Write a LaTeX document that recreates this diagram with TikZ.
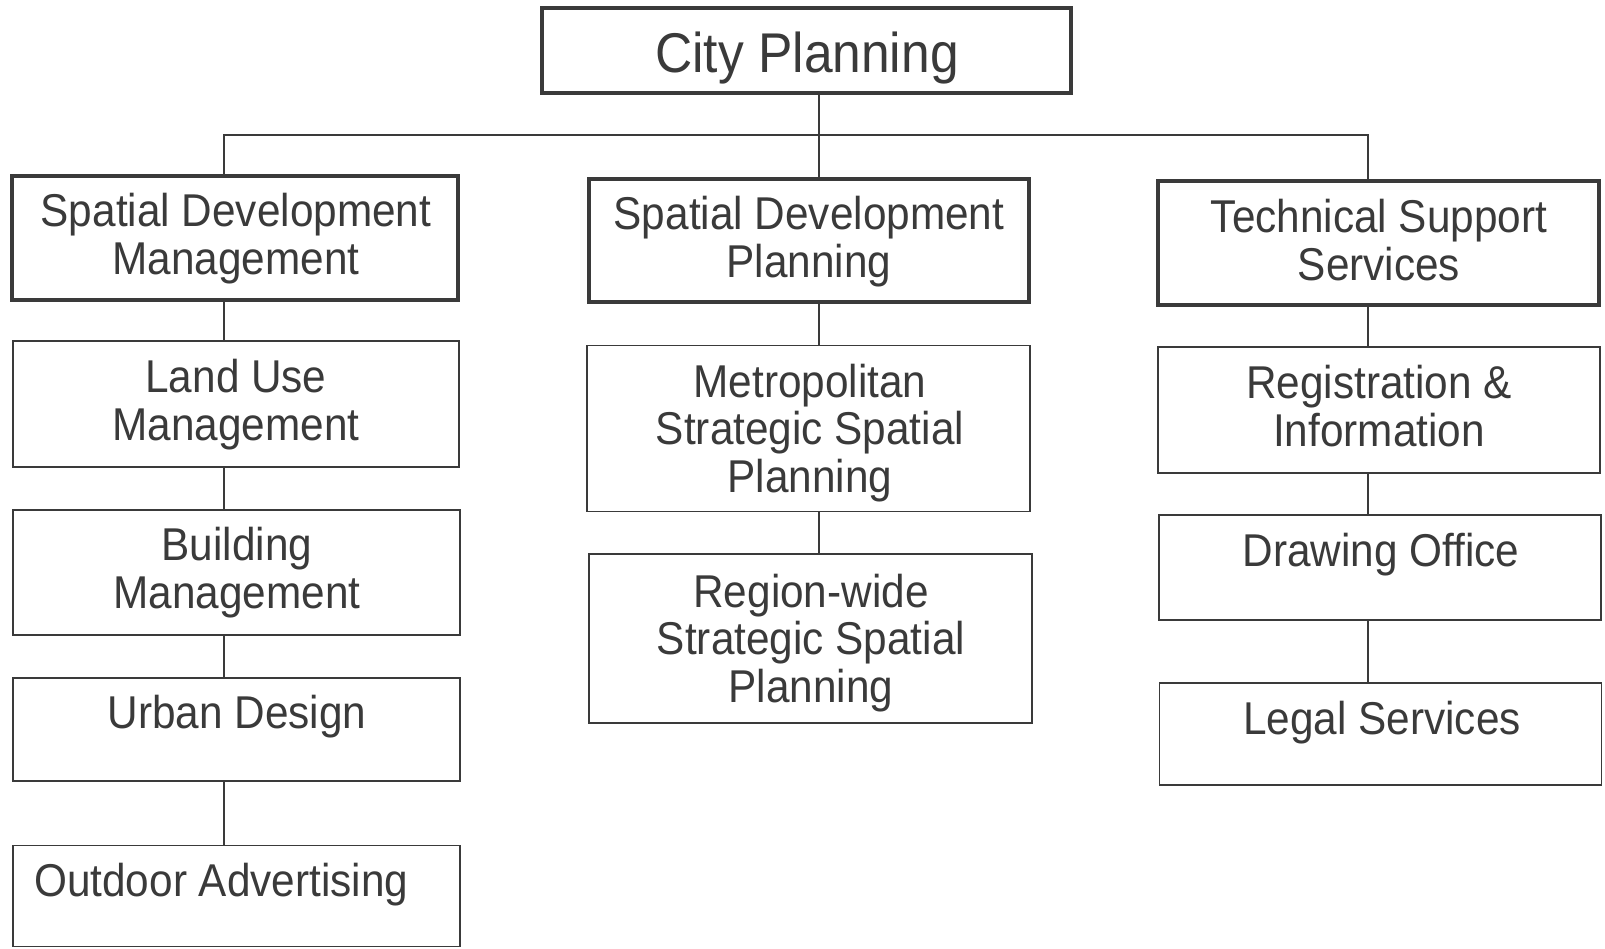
\documentclass[tikz,border=0pt]{standalone}
\usepackage{fontspec}
\setmainfont[FakeStretch=0.92]{Liberation Sans}
\definecolor{linegray}{HTML}{3A3A3A}
\definecolor{textgray}{HTML}{3A3A3A}
\tikzset{
  thickbox/.style={draw=linegray, line width=4pt, inner sep=0pt, rectangle},
  thinbox/.style={draw=linegray, line width=1.8pt, inner sep=0pt, rectangle},
  conn/.style={draw=linegray, line width=1.6pt},
  txt/.style={inner sep=0pt, text=textgray, align=center, anchor=base, font=\fontsize{46}{47.5}\selectfont},
  bigtxt/.style={inner sep=0pt, text=textgray, anchor=base, font=\fontsize{56}{60}\selectfont}
}
\begin{document}
\begin{tikzpicture}[x=1pt,y=-1pt]
\useasboundingbox (0,0) rectangle (1605,948);
\fill[white] (0,0) rectangle (1605,948);
% boxes
\node[thickbox, minimum width=529pt, minimum height=85pt] (city) at (806.5,50.5) {};
\node[thickbox, minimum width=446pt, minimum height=124pt] (sdm) at (235,238) {};
\node[thickbox, minimum width=440pt, minimum height=123pt] (sdp) at (808.6,240.5) {};
\node[thickbox, minimum width=441pt, minimum height=124pt] (tss) at (1378,243) {};
\node[thinbox, minimum width=446pt, minimum height=126pt] (lum) at (236,404) {};
\node[thinbox, minimum width=447pt, minimum height=125pt] (bm) at (236.5,572.7) {};
\node[thinbox, minimum width=447pt, minimum height=103pt] (ud) at (236.5,729.8) {};
\node[thinbox, minimum width=447pt, minimum height=101pt] (oa) at (236.5,896) {};
\node[thinbox, minimum width=443pt, minimum height=166pt] (mssp) at (808.6,428.4) {};
\node[thinbox, minimum width=443pt, minimum height=169pt] (rssp) at (810.7,638.2) {};
\node[thinbox, minimum width=442pt, minimum height=126pt] (ri) at (1379.2,410) {};
\node[thinbox, minimum width=442pt, minimum height=105pt] (do) at (1380,567.5) {};
\node[thinbox, minimum width=442pt, minimum height=102pt] (ls) at (1380.5,734) {};
% texts (anchor base = baseline of the last line)
\node[bigtxt] (tcity) at (807,72) {City Planning};
\node[txt] (tsdm) at (236,274) {Spatial Development\\Management};
\node[txt] (tsdp) at (809,277) {Spatial Development\\Planning};
\node[txt] (ttss) at (1379,280) {Technical Support\\Services};
\node[txt] (tlum) at (236,440) {Land Use\\Management};
\node[txt] (tbm) at (237,608) {Building\\Management};
\node[txt] (tud) at (237,728) {Urban Design};
\node[txt, anchor=base west] (toa) at (34,896) {Outdoor Advertising};
\node[txt] (tmssp) at (810,492) {Metropolitan\\Strategic Spatial\\Planning};
\node[txt] (trssp) at (811,702) {Region-wide\\Strategic Spatial\\Planning};
\node[txt] (tri) at (1379,446) {Registration \&\\Information};
\node[txt] (tdo) at (1381,566) {Drawing Office};
\node[txt] (tls) at (1382,734) {Legal Services};
% connector columns
\coordinate (cL) at (224,0);
\coordinate (cM) at (819,0);
\coordinate (cR) at (1368,0);
\coordinate (busL) at (224,135);
\coordinate (busM) at (819,135);
\coordinate (busR) at (1368,135);
\draw[conn] (city.south -| cM) -- (busM);
\draw[conn] (sdm.north -| cL) -- (busL) -- (busR) -- (tss.north -| cR);
\draw[conn] (busM) -- (sdp.north -| cM);
\draw[conn] (sdm.south -| cL) -- (lum.north -| cL);
\draw[conn] (lum.south -| cL) -- (bm.north -| cL);
\draw[conn] (bm.south -| cL) -- (ud.north -| cL);
\draw[conn] (ud.south -| cL) -- (oa.north -| cL);
\draw[conn] (sdp.south -| cM) -- (mssp.north -| cM);
\draw[conn] (mssp.south -| cM) -- (rssp.north -| cM);
\draw[conn] (tss.south -| cR) -- (ri.north -| cR);
\draw[conn] (ri.south -| cR) -- (do.north -| cR);
\draw[conn] (do.south -| cR) -- (ls.north -| cR);
\end{tikzpicture}
\end{document}
